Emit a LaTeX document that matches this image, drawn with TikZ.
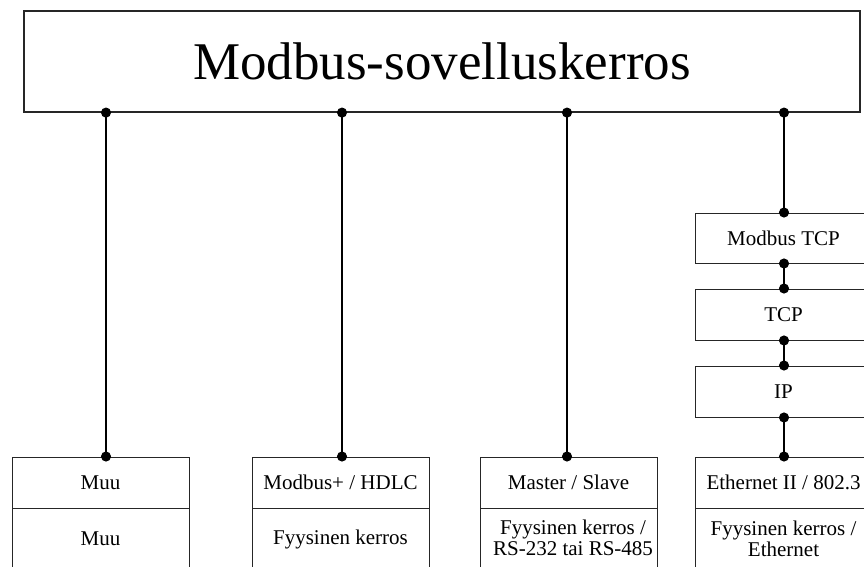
\documentclass[tikz,border=0pt]{standalone}
\usepackage{fontspec}
\setmainfont{Liberation Serif}
\usetikzlibrary{arrows.meta}
\begin{document}
\begin{tikzpicture}[x=1pt,y=-1pt,
  cell/.style={draw=black!85, line width=1pt, minimum width=177pt, inner sep=0pt,
    font=\fontsize{21}{21}\selectfont, align=center},
  txt/.style={inner sep=0pt, font=\fontsize{21}{21}\selectfont, align=center},
  link/.style={line width=1.8pt, {Circle[length=10pt]}-{Circle[length=10pt]},
    shorten <=-5pt, shorten >=-5pt}]
\clip (0,0) rectangle (864,567);

% application layer
\node[draw=black!85, line width=1.2pt, minimum width=836pt, minimum height=101pt,
  inner sep=0pt, font=\fontsize{53}{53}\selectfont] (app) at (442,61.5) {Modbus-sovelluskerros};

% connector columns
\coordinate (x1) at (106,0);
\coordinate (x2) at (342,0);
\coordinate (x3) at (567,0);
\coordinate (x4) at (784,0);

% column 1
\node[cell, minimum height=51pt] (d1) at (100.5,482.5) {Muu};
\node[cell, minimum height=62pt] (f1) at (100.5,539) {Muu};

% column 2
\node[cell, minimum height=51pt] (d2) at (340.5,482.5) {Modbus+ / HDLC};
\node[cell, minimum height=62pt] (f2) at (340.5,539) {Fyysinen kerros};

% column 3
\node[cell, minimum height=51pt] (d3) at (568.5,482.5) {Master / Slave};
\node[cell, minimum height=62pt] (f3) at (568.5,539) {};
\node[txt] (f3t) at (573,538) {Fyysinen kerros /\\RS-232 tai RS-485};

% column 4: TCP/IP stack
\node[cell, minimum height=50pt] (mtcp) at (783.5,238) {Modbus TCP};
\node[cell, minimum height=51pt] (tcp) at (783.5,314.5) {TCP};
\node[cell, minimum height=51pt] (ip) at (783.5,391.5) {IP};
\node[cell, minimum height=51pt] (d4) at (783.5,482.5) {Ethernet II / 802.3};
\node[cell, minimum height=62pt] (f4) at (783.5,539) {Fyysinen kerros /\\Ethernet};

% links
\draw[link] (app.south -| x1) -- (d1.north -| x1);
\draw[link] (app.south -| x2) -- (d2.north -| x2);
\draw[link] (app.south -| x3) -- (d3.north -| x3);
\draw[link] (app.south -| x4) -- (mtcp.north -| x4);
\draw[link] (mtcp.south -| x4) -- (tcp.north -| x4);
\draw[link] (tcp.south -| x4) -- (ip.north -| x4);
\draw[link] (ip.south -| x4) -- (d4.north -| x4);
\end{tikzpicture}
\end{document}
